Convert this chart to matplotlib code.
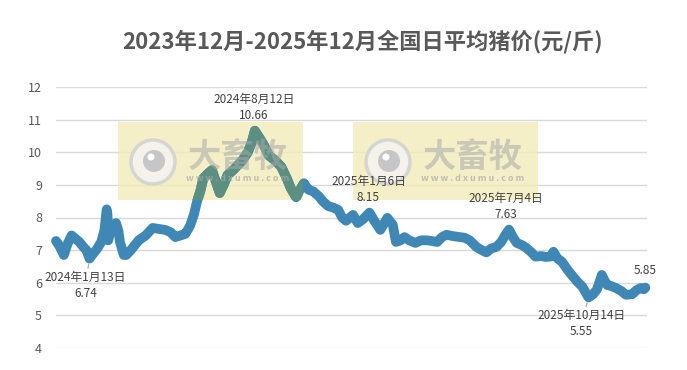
import pandas as pd
import matplotlib.pyplot as plt
from matplotlib.patches import Rectangle, Circle

plt.rcParams['font.family'] = ['Noto Sans CJK SC', 'DejaVu Sans']

dates = ["2023-12-01", "2023-12-02", "2023-12-06", "2023-12-11", "2023-12-16", "2023-12-21",
         "2023-12-26", "2023-12-31", "2024-01-05", "2024-01-09", "2024-01-13", "2024-01-18",
         "2024-01-23", "2024-01-28", "2024-02-01", "2024-02-04", "2024-02-05", "2024-02-06",
         "2024-02-10", "2024-02-16", "2024-02-19", "2024-02-21", "2024-02-26", "2024-02-29",
         "2024-03-06", "2024-03-16", "2024-03-25", "2024-04-03", "2024-04-11", "2024-04-19",
         "2024-04-26", "2024-05-02", "2024-05-09", "2024-05-15", "2024-05-21", "2024-05-26",
         "2024-05-30", "2024-06-03", "2024-06-07", "2024-06-13", "2024-06-18", "2024-06-23",
         "2024-06-28", "2024-07-03", "2024-07-08", "2024-07-15", "2024-07-21", "2024-07-27",
         "2024-08-03", "2024-08-08", "2024-08-12", "2024-08-19", "2024-08-24", "2024-08-30",
         "2024-09-07", "2024-09-15", "2024-09-22", "2024-09-27", "2024-10-04", "2024-10-09",
         "2024-10-14", "2024-10-20", "2024-10-26", "2024-11-02", "2024-11-08", "2024-11-14",
         "2024-11-21", "2024-11-27", "2024-12-02", "2024-12-07", "2024-12-16", "2024-12-22",
         "2024-12-29", "2025-01-06", "2025-01-13", "2025-01-20", "2025-01-29", "2025-02-05",
         "2025-02-09", "2025-02-15", "2025-02-20", "2025-02-26", "2025-03-06", "2025-03-13",
         "2025-03-21", "2025-03-27", "2025-04-03", "2025-04-09", "2025-04-15", "2025-04-23",
         "2025-05-02", "2025-05-08", "2025-05-14", "2025-05-19", "2025-05-23", "2025-05-30",
         "2025-06-05", "2025-06-11", "2025-06-18", "2025-06-24", "2025-06-29", "2025-07-04",
         "2025-07-09", "2025-07-14", "2025-07-21", "2025-07-26", "2025-08-01", "2025-08-07",
         "2025-08-14", "2025-08-20", "2025-08-26", "2025-08-30", "2025-09-04", "2025-09-10",
         "2025-09-17", "2025-09-23", "2025-09-29", "2025-10-06", "2025-10-14", "2025-10-20",
         "2025-10-25", "2025-10-31", "2025-11-04", "2025-11-07", "2025-11-12", "2025-11-18",
         "2025-11-25", "2025-12-01", "2025-12-09", "2025-12-15", "2025-12-20", "2025-12-24",
         "2025-12-26"]
prices = [7.28, 7.25, 7.1, 6.85, 7.2, 7.45,
          7.35, 7.25, 7.1, 7.0, 6.74, 6.9,
          7.05, 7.25, 7.6, 8.25, 8.1, 7.3,
          7.7, 7.83, 7.6, 7.25, 6.85, 6.85,
          7.0, 7.3, 7.45, 7.68, 7.65, 7.62,
          7.55, 7.4, 7.45, 7.5, 7.75, 8.1,
          8.5, 8.8, 9.2, 9.35, 9.45, 9.1,
          8.75, 9.0, 9.3, 9.45, 9.6, 9.75,
          10.0, 10.3, 10.66, 10.4, 10.2, 9.9,
          9.75, 9.55, 9.2, 8.9, 8.62, 8.85,
          9.05, 8.85, 8.8, 8.65, 8.48, 8.35,
          8.3, 8.23, 8.0, 7.9, 8.08, 7.83,
          7.95, 8.15, 7.87, 7.62, 7.99, 7.77,
          7.25, 7.3, 7.4, 7.3, 7.22, 7.3,
          7.3, 7.28, 7.25, 7.4, 7.47, 7.43,
          7.4, 7.38, 7.31, 7.2, 7.1, 7.0,
          6.93, 7.05, 7.1, 7.25, 7.45, 7.63,
          7.4, 7.22, 7.15, 7.07, 6.95, 6.8,
          6.82, 6.79, 6.8, 6.95, 6.75, 6.64,
          6.4, 6.22, 6.05, 5.88, 5.55, 5.65,
          5.8, 6.24, 6.05, 5.93, 5.9, 5.84,
          5.75, 5.63, 5.65, 5.78, 5.84, 5.8,
          5.85]

# labelled points: date, text, value
notes = [("2024-01-13", "2024年1月13日", 6.74),
         ("2024-08-12", "2024年8月12日", 10.66),
         ("2025-01-06", "2025年1月6日", 8.15),
         ("2025-07-04", "2025年7月4日", 7.63),
         ("2025-10-14", "2025年10月14日", 5.55)]
yticks = [4, 5, 6, 7, 8, 9, 10, 11, 12]

x = pd.to_datetime(dates)
W, H = 687, 370
fig = plt.figure(figsize=(W / 100, H / 100), dpi=100)
ax = fig.add_axes([56 / W, 1 - 348 / H, (647 - 56) / W, (348 - 87) / H])

blue = '#3f88b6'
green = '#5b8f82'
lw = 7

ax.set_ylim(4, 12)
ax.set_xlim(x[0], x[-1] + pd.Timedelta(days=2))
ax.set_yticks(yticks)
ax.set_xticks([])
ax.grid(axis='y', color='#d9d9d9', lw=1)
ax.set_axisbelow(True)
for s in ax.spines.values():
    s.set_visible(False)
ax.tick_params(axis='y', length=0, labelsize=9, labelcolor='#595959', pad=10)

ax.plot(x, prices, color=blue, lw=lw, solid_capstyle='round', solid_joinstyle='round',
        clip_on=False, zorder=3)

# watermark boxes (pixel coords)
def px(xp, yp):
    return xp / W, 1 - yp / H

for x0 in [118, 353]:
    r = Rectangle(px(x0, 200), 185 / W, 78 / H, transform=fig.transFigure,
                  facecolor='#f3ebba', edgecolor='none', alpha=0.8, zorder=2)
    ax.add_patch(r)
    clip = Rectangle(px(x0, 200), 185 / W, 78 / H, transform=fig.transFigure,
                     facecolor='none', edgecolor='none')
    ax.add_patch(clip)
    ln, = ax.plot(x, prices, color=green, lw=lw, solid_capstyle='round',
                  solid_joinstyle='round', zorder=3.5)
    ln.set_clip_path(clip)
    ax.add_patch(Circle((x0 + 35, H - 162), 22, transform=None, facecolor='#f4f4f4',
                        edgecolor='#cfcfcf', lw=2.5, alpha=0.8, zorder=4))
    ax.add_patch(Circle((x0 + 36, H - 161), 11, transform=None, facecolor='#c2c2c2',
                        edgecolor='none', alpha=0.9, zorder=4))
    ax.add_patch(Circle((x0 + 33, H - 157), 3.5, transform=None, facecolor='white',
                        edgecolor='none', zorder=4))
    fig.text(*px(x0 + 120, 157), '大畜牧', fontsize=24, fontweight='bold', color='#a8a8a8',
             alpha=0.55, ha='center', va='center', zorder=5)
    fig.text(*px(x0 + 120, 179), 'w w w . d x u m u . c o m', fontsize=6.5, color='#a8a8a8',
             alpha=0.7, ha='center', va='center', fontweight='bold', zorder=5)

offsets = [(-3, -19.5), (-0.7, 17), (-0.7, 16.5), (-2, 16.5), (-5, -19)]
for (d, label, v), off in zip(notes, offsets):
    leader = dict(arrowstyle='-', color='#a6a6a6', lw=0.8, shrinkA=0, shrinkB=4) if off[1] < 0 else None
    ax.annotate(f"{label}\n{v:.2f}", xy=(pd.Timestamp(d), v), xytext=off,
                textcoords='offset points', ha='center', va='center', fontsize=8.5,
                color='#404040', linespacing=1.3, arrowprops=leader, zorder=6)
ax.annotate(f"{prices[-1]:.2f}", xy=(x[-1], prices[-1]), xytext=(0, 12),
            textcoords='offset points', ha='center', va='center', fontsize=8.5,
            color='#404040', zorder=6)

fig.text(*px(362, 42), '2023年12月-2025年12月全国日平均猪价(元/斤)', fontsize=16,
         fontweight='bold', color='#595959', ha='center', va='center')

fig.savefig('out.png', dpi=100)
